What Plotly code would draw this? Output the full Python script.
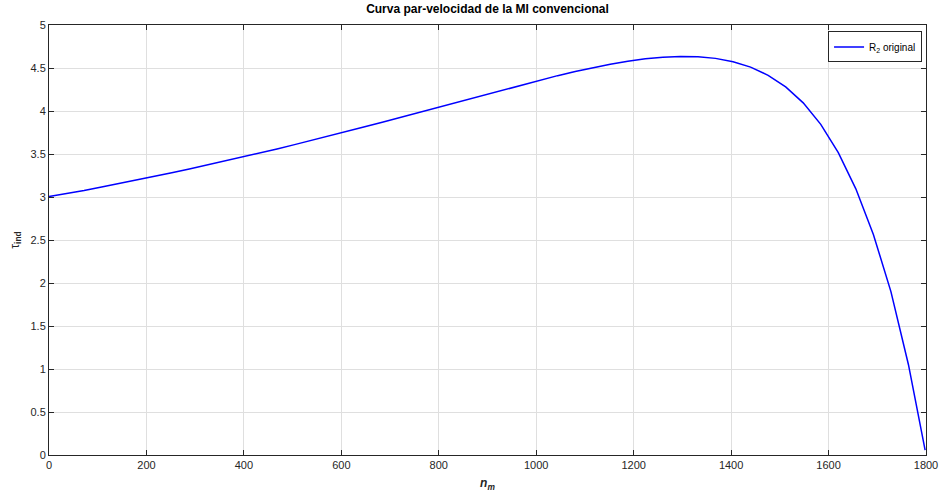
import plotly.graph_objects as go

# Rotor speed n_m (rpm)
speed = [0, 36, 72, 108, 144, 180, 216, 252, 288, 324,
         360, 396, 432, 468, 504, 540, 576, 612, 648, 684,
         720, 756, 792, 828, 864, 900, 936, 972, 1008, 1044,
         1080, 1116, 1152, 1188, 1224, 1260, 1296, 1332, 1368, 1404,
         1440, 1476, 1512, 1548, 1584, 1620, 1656, 1692, 1728, 1764,
         1798.2]

# Induced torque tau_ind
torque = [3.005, 3.036, 3.075, 3.115, 3.155, 3.197, 3.239, 3.282, 3.326, 3.371,
          3.417, 3.463, 3.511, 3.559, 3.609, 3.659, 3.711, 3.763, 3.816, 3.869,
          3.923, 3.978, 4.033, 4.089, 4.144, 4.199, 4.254, 4.308, 4.360, 4.411,
          4.459, 4.504, 4.544, 4.579, 4.607, 4.626, 4.635, 4.631, 4.612, 4.572,
          4.510, 4.415, 4.280, 4.095, 3.845, 3.515, 3.095, 2.565, 1.900, 1.050,
          0.057]

x_ticks = [0, 200, 400, 600, 800, 1000, 1200, 1400, 1600, 1800]
y_ticks = [0, 0.5, 1, 1.5, 2, 2.5, 3, 3.5, 4, 4.5, 5]

FONT = "Liberation Sans, Arial, Helvetica, sans-serif"
AX = "#262626"
GRID = "#dfdfdf"

fig = go.Figure()
fig.add_trace(go.Scatter(
    x=speed, y=torque, mode="lines",
    line=dict(color="#0000ff", width=1.5),
    name="R<sub>2</sub> original",
))

axis_common = dict(
    showline=True, linecolor=AX, linewidth=1, mirror="ticks",
    ticks="inside", ticklen=5, tickcolor=AX, tickwidth=1,
    showgrid=True, gridcolor=GRID, gridwidth=1, zeroline=False,
    tickfont=dict(family=FONT, size=11, color=AX),
)

fig.update_layout(
    width=940, height=496,
    margin=dict(l=49, r=14, t=25, b=41),
    paper_bgcolor="white", plot_bgcolor="white",
    title=dict(
        text="<b>Curva par-velocidad de la MI convencional</b>",
        x=0.5, xanchor="center", xref="paper",
        y=1, yref="container", yanchor="top", pad=dict(t=5),
        font=dict(family=FONT, size=12, color="black"),
    ),
    showlegend=True,
    legend=dict(
        x=0.9955, xanchor="right", y=0.985, yanchor="top",
        bordercolor=AX, borderwidth=1, bgcolor="white",
        font=dict(family=FONT, size=10, color="black"),
        tracegroupgap=0, itemwidth=30,
    ),
    xaxis=dict(
        range=[0, 1800], tickvals=x_ticks,
        title=dict(text="<b><i>n</i></b><sub><b><i>m</i></b></sub>",
                   font=dict(family=FONT, size=12, color=AX), standoff=8),
        automargin=False,
        **axis_common,
    ),
    yaxis=dict(
        range=[0, 5], tickvals=y_ticks,
        tickformat="~g",
        title=dict(text="τ<sub><b>ind</b></sub>",
                   font=dict(family=FONT, size=12, color=AX), standoff=8),
        automargin=False,
        **axis_common,
    ),
)

fig.write_html(
    "out.html",
    config={"displayModeBar": False},
    post_script="document.body.style.margin='0';document.body.style.overflow='hidden';",
)
